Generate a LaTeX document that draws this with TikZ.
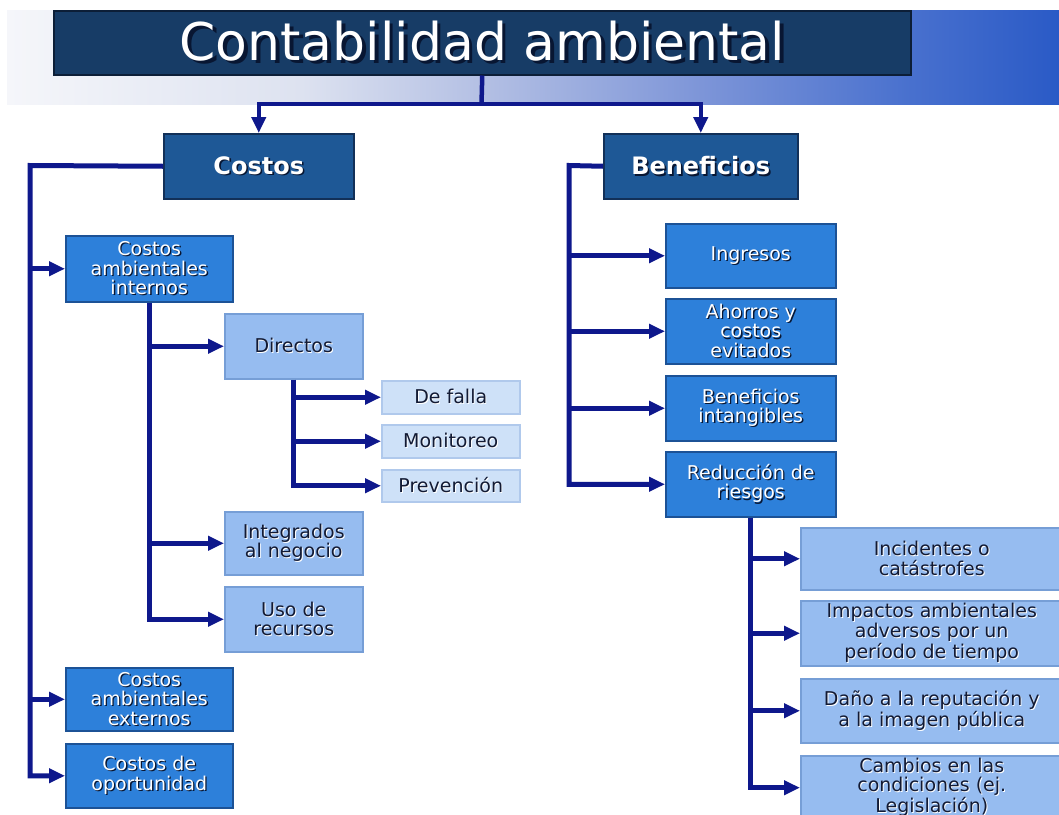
\documentclass[tikz,border=0pt]{standalone}
\usepackage{fontspec}
\setmainfont{DejaVu Sans}
\usetikzlibrary{arrows.meta}
\definecolor{navy}{RGB}{14,24,140}
\definecolor{shdark}{RGB}{8,22,50}
\definecolor{titlefill}{RGB}{23,60,102}
\definecolor{titleline}{RGB}{12,30,55}
\definecolor{hdrfill}{RGB}{30,88,150}
\definecolor{hdrline}{RGB}{18,48,88}
\definecolor{midfill}{RGB}{45,128,218}
\definecolor{midline}{RGB}{28,82,150}
\definecolor{lightfill}{RGB}{150,188,240}
\definecolor{lightline}{RGB}{118,158,214}
\definecolor{palefill}{RGB}{206,225,248}
\definecolor{paleline}{RGB}{176,201,236}
\definecolor{darktext}{RGB}{18,26,52}
\definecolor{bandA}{RGB}{245,246,250}
\definecolor{bandB}{RGB}{221,226,240}
\definecolor{bandC}{RGB}{180,192,228}
\definecolor{bandD}{RGB}{125,149,216}
\definecolor{bandE}{RGB}{72,112,206}
\definecolor{bandF}{RGB}{42,90,198}
\pgfdeclarehorizontalshading{band}{100bp}{color(0bp)=(bandA); color(25bp)=(bandA); color(39bp)=(bandB); color(47.5bp)=(bandC); color(58bp)=(bandD); color(68bp)=(bandE); color(75bp)=(bandF); color(100bp)=(bandF)}
\newcommand\shD[1]{\leavevmode\rlap{\kern0.07em\raisebox{-0.07em}{\color{shdark}#1}}#1}
\newcommand\shL[1]{\leavevmode\rlap{\kern0.05em\raisebox{-0.05em}{\color{white}#1}}#1}
\tikzset{
  box/.style={draw, line width=1.5pt, inner sep=2pt, align=center, anchor=north west,
    font=\fontsize{19}{19.5}\selectfont},
  titlebox/.style={box, fill=titlefill, draw=titleline, text=white, font=\fontsize{52}{60}\selectfont},
  hdr/.style={box, fill=hdrfill, draw=hdrline, text=white, font=\fontsize{24}{28}\selectfont\bfseries},
  mid/.style={box, fill=midfill, draw=midline, text=white},
  light/.style={box, fill=lightfill, draw=lightline, text=darktext},
  pale/.style={box, fill=palefill, draw=paleline, text=darktext},
  conn/.style={draw=navy, line width=5pt, line join=miter},
  arr/.style={conn, -{Triangle[length=16pt,width=14pt]}}
}
\begin{document}
\begin{tikzpicture}[x=1pt,y=-1pt]
\useasboundingbox (0,0) rectangle (1059,814);
\clip (0,0) rectangle (1059,814);
\fill[white] (0,0) rectangle (1059,814);
\shade[shading=band] (7,10) rectangle (1059,104);

\node[titlebox, minimum width=857pt, minimum height=64pt] (title) at (53,10) {\shD{Contabilidad ambiental}};

\node[hdr, minimum width=190pt, minimum height=65pt] (costos) at (163,133) {\shD{Costos}};
\node[hdr, minimum width=194pt, minimum height=65pt] (benef) at (603,133) {\shD{Beneficios}};

\node[mid, minimum width=167pt, minimum height=66pt] (cai) at (65,235) {\shD{Costos}\\\shD{ambientales}\\\shD{internos}};
\node[light, minimum width=138pt, minimum height=65pt] (dir) at (224,313) {\shL{Directos}};
\node[pale, minimum width=138pt, minimum height=33pt] (fal) at (381,380) {\shL{De falla}};
\node[pale, minimum width=138pt, minimum height=33pt] (mon) at (381,424) {\shL{Monitoreo}};
\node[pale, minimum width=138pt, minimum height=32pt] (pre) at (381,469) {\shL{Prevención}};
\node[light, minimum width=138pt, minimum height=63pt] (int) at (224,511) {\shL{Integrados}\\\shL{al negocio}};
\node[light, minimum width=138pt, minimum height=65pt] (uso) at (224,586) {\shL{Uso de}\\\shL{recursos}};
\node[mid, minimum width=167pt, minimum height=63pt] (ext) at (65,667) {\shD{Costos}\\\shD{ambientales}\\\shD{externos}};
\node[mid, minimum width=167pt, minimum height=64pt] (opo) at (65,743) {\shD{Costos de}\\\shD{oportunidad}};

\node[mid, minimum width=170pt, minimum height=64pt] (ing) at (665,223) {\shD{Ingresos}};
\node[mid, minimum width=170pt, minimum height=65pt] (aho) at (665,298) {\shD{Ahorros y}\\\shD{costos}\\\shD{evitados}};
\node[mid, minimum width=170pt, minimum height=65pt] (bint) at (665,375) {\shD{Beneficios}\\\shD{intangibles}};
\node[mid, minimum width=170pt, minimum height=65pt] (red) at (665,451) {\shD{Reducción de}\\\shD{riesgos}};

\node[light, minimum width=262pt, minimum height=62pt] (inc) at (800,527) {\shL{Incidentes o}\\\shL{catástrofes}};
\node[light, minimum width=262pt, minimum height=65pt] (imp) at (800,600) {\shL{Impactos ambientales}\\\shL{adversos por un}\\\shL{período de tiempo}};
\node[light, minimum width=262pt, minimum height=64pt] (dan) at (800,678) {\shL{Daño a la reputación y}\\\shL{a la imagen pública}};
\node[light, minimum width=262pt, minimum height=63pt] (cam) at (800,755) {\shL{Cambios en las}\\\shL{condiciones (ej.}\\\shL{Legislación)}};

% top connectors
\coordinate (tj) at (481.5,104);
\draw[conn, line width=4.5pt] (title.south) -- (tj);
\draw[arr, line width=4pt] (tj) -| (costos.north);
\draw[arr, line width=4pt] (tj) -| (benef.north);

% costos tree
\coordinate (cL) at (30,165.5);
\draw[arr] (costos.west) -- (cL) |- (opo.west);
\draw[arr] (cL |- cai.west) -- (cai.west);
\draw[arr] (cL |- ext.west) -- (ext.west);
\draw[arr] (cai.south) |- (uso.west);
\draw[arr] (cai.south |- dir.west) -- (dir.west);
\draw[arr] (cai.south |- int.west) -- (int.west);
\draw[arr] (dir.south) |- (pre.west);
\draw[arr] (dir.south |- fal.west) -- (fal.west);
\draw[arr] (dir.south |- mon.west) -- (mon.west);

% beneficios tree
\coordinate (bL) at (569,165.5);
\draw[arr] (benef.west) -- (bL) |- (red.west);
\draw[arr] (bL |- ing.west) -- (ing.west);
\draw[arr] (bL |- aho.west) -- (aho.west);
\draw[arr] (bL |- bint.west) -- (bint.west);
\draw[arr] (red.south) |- (cam.west);
\draw[arr] (red.south |- inc.west) -- (inc.west);
\draw[arr] (red.south |- imp.west) -- (imp.west);
\draw[arr] (red.south |- dan.west) -- (dan.west);
\end{tikzpicture}
\end{document}
